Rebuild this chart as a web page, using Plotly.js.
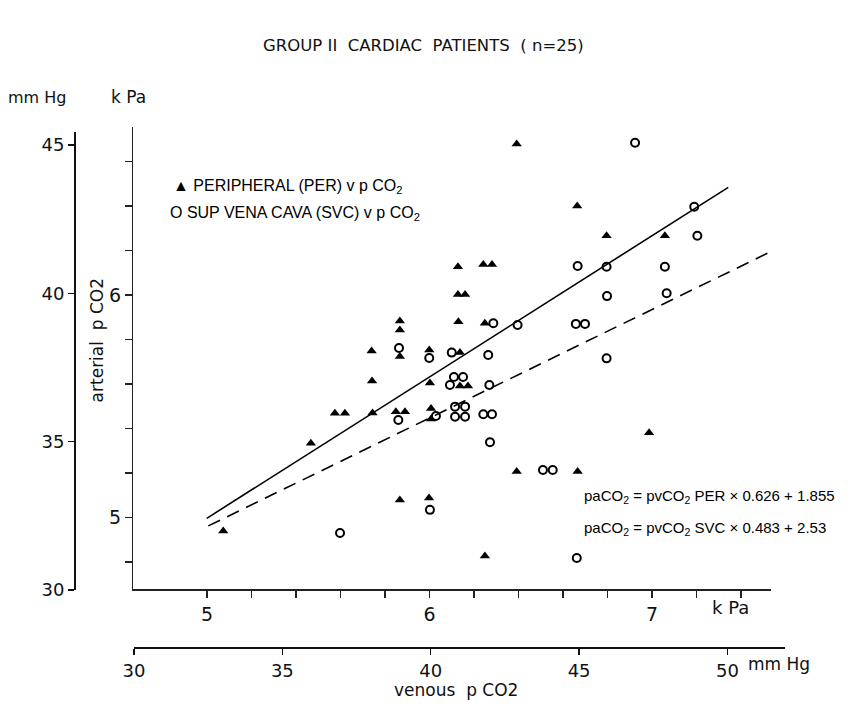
<!DOCTYPE html>
<html>
<head>
<meta charset="utf-8">
<script src="https://cdn.plot.ly/plotly-3.0.1.min.js"></script>
<style>
html,body{margin:0;padding:0;background:#fff;}
#chart{width:858px;height:706px;}
</style>
</head>
<body>
<div id="chart"></div>
<script>
// Peripheral (PER) venous pCO2 (kPa) vs arterial pCO2 (kPa)
const perX = [5.073,5.467,5.575,5.620,5.740,5.742,5.744,5.867,5.867,5.867,5.849,5.890,5.867,
  5.999,6.002,6.007,6.007,5.998,6.128,6.128,6.160,6.130,6.137,6.137,6.173,6.242,6.281,6.249,
  6.249,6.392,6.392,6.664,6.666,6.796,7.058,6.987];
const perY = [4.940,5.334,5.469,5.469,5.749,5.614,5.471,5.884,5.844,5.724,5.476,5.476,5.079,
  5.754,5.605,5.491,5.444,5.088,6.128,6.003,6.003,5.881,5.742,5.592,5.592,6.138,6.138,5.874,
  4.828,6.680,5.207,6.401,5.207,6.267,6.267,5.382];

// Superior vena cava (SVC) venous pCO2 (kPa) vs arterial pCO2 (kPa)
const svcX = [5.598,5.863,5.860,5.999,6.029,6.002,6.100,6.110,6.151,6.092,6.115,6.160,6.115,
  6.160,6.242,6.281,6.264,6.269,6.272,6.287,6.396,6.510,6.554,6.662,6.666,6.658,6.699,6.796,
  6.798,6.796,6.924,7.058,7.066,7.190,7.204];
const svcY = [4.931,5.763,5.439,5.718,5.457,5.035,5.742,5.632,5.632,5.596,5.499,5.499,5.454,
  5.454,5.465,5.465,5.731,5.596,5.339,5.874,5.866,5.214,5.214,4.819,6.131,5.871,5.871,6.128,
  5.996,5.716,6.685,6.128,6.009,6.398,6.267];

// Regression lines (end points as drawn)
const perLineX = [4.999, 7.343];
const perLineY = [4.997, 6.485];
const svcLineX = [5.006, 7.534];
const svcLineY = [4.963, 6.196];

// Tick values / labels
const kpaXTicks = [5,5.2,5.4,5.6,5.8,6,6.2,6.4,6.6,6.8,7,7.2,7.4];
const kpaXText  = ['5','','','','','6','','','','','7','',''];
const kpaYTicks = [5, 6];
const mmhgXTicks = [30, 35, 40, 45, 50];
const mmhgYTicks = [30, 35, 40, 45];

const FONT = 'DejaVu Sans, sans-serif';
const SANS = 'Liberation Sans, Arial, sans-serif';

const traces = [
  {x: perLineX, y: perLineY, mode: 'lines', line: {color: '#000', width: 1.6}, hoverinfo: 'skip'},
  {x: svcLineX, y: svcLineY, mode: 'lines', line: {color: '#000', width: 1.6, dash: '13px,8px'}, hoverinfo: 'skip'},
  {x: perX, y: perY, mode: 'markers', name: 'PER',
   marker: {symbol: 'triangle-up', size: 9, color: '#000'}},
  {x: svcX, y: svcY, mode: 'markers', name: 'SVC',
   marker: {symbol: 'circle-open', size: 8, color: '#000', line: {width: 2, color: '#000'}}},
  {x: [null], y: [null], xaxis: 'x2', yaxis: 'y2', mode: 'markers', hoverinfo: 'skip'}
];

const layout = {
  width: 858, height: 706,
  margin: {l: 40, r: 72, t: 120, b: 58},
  paper_bgcolor: '#fff', plot_bgcolor: 'rgba(0,0,0,0)',
  showlegend: false,
  font: {family: FONT, color: '#111', size: 18},
  xaxis: {
    domain: [0.1251, 0.9799], range: [4.669, 7.535], anchor: 'y',
    showgrid: false, zeroline: false, showline: true, linecolor: '#222', linewidth: 1.5,
    ticks: 'outside', ticklen: 7, tickwidth: 1.5, tickcolor: '#222',
    tickmode: 'array', tickvals: kpaXTicks, ticktext: kpaXText,
    tickfont: {family: FONT, size: 19, color: '#111'}
  },
  yaxis: {
    domain: [0.1112, 0.9867], range: [4.678, 6.756], anchor: 'x',
    showgrid: false, zeroline: false, showline: true, linecolor: '#222', linewidth: 1.5,
    ticks: 'outside', ticklen: 7, tickwidth: 1.5, tickcolor: '#222',
    tickmode: 'array', tickvals: kpaYTicks, ticktext: kpaYTicks.map(String),
    minor: {tick0: 4.8, dtick: 0.2, ticks: 'outside', ticklen: 7, tickwidth: 1.5, tickcolor: '#222', showgrid: false},
    tickfont: {family: FONT, size: 19, color: '#111'}
  },
  xaxis2: {
    domain: [0.126, 0.9987], range: [30, 51.94], anchor: 'free', position: 0,
    showgrid: false, zeroline: false, showline: true, linecolor: '#111', linewidth: 2,
    ticks: 'outside', ticklen: 6, tickwidth: 1.5, tickcolor: '#111',
    tickmode: 'array', tickvals: mmhgXTicks, ticktext: mmhgXTicks.map(String),
    tickfont: {family: FONT, size: 18, color: '#111'}
  },
  yaxis2: {
    domain: [0.1098, 0.9773], range: [30, 45.44], anchor: 'free', position: 0.0469, side: 'left',
    showgrid: false, zeroline: false, showline: true, linecolor: '#111', linewidth: 2,
    ticks: 'outside', ticklen: 6, tickwidth: 1.5, tickcolor: '#111',
    tickmode: 'array', tickvals: mmhgYTicks, ticktext: mmhgYTicks.map(String),
    tickfont: {family: FONT, size: 18, color: '#111'}
  },
  annotations: [
    {text: 'GROUP II  CARDIAC  PATIENTS  ( n=25)', xref: 'paper', yref: 'paper',
     x: 0.514, y: 1.0, yshift: 75, showarrow: false, xanchor: 'center', yanchor: 'middle',
     font: {family: FONT, size: 16.5, color: '#111'}},
    {text: 'mm Hg', xref: 'paper', yref: 'paper', x: -0.004, y: 1.0, yshift: 23,
     showarrow: false, xanchor: 'center', yanchor: 'middle', font: {family: FONT, size: 16}},
    {text: 'k Pa', xref: 'paper', yref: 'paper', x: 0.118, y: 1.0, yshift: 23,
     showarrow: false, xanchor: 'center', yanchor: 'middle', font: {family: FONT, size: 17}},
    {text: 'arterial  p CO2', xref: 'paper', yref: 'paper', x: 0.076, y: 0.582,
     textangle: -90, showarrow: false, xanchor: 'center', yanchor: 'middle', font: {family: FONT, size: 17}},
    {text: 'k Pa', xref: 'paper', yref: 'paper', x: 0.925, y: 0.076,
     showarrow: false, xanchor: 'center', yanchor: 'middle', font: {family: FONT, size: 18}},
    {text: 'mm Hg', xref: 'paper', yref: 'paper', x: 0.99, y: 0, yshift: -16,
     showarrow: false, xanchor: 'center', yanchor: 'middle', font: {family: FONT, size: 17}},
    {text: 'venous  p CO2', xref: 'paper', yref: 'paper', x: 0.557, y: 0, yshift: -42,
     showarrow: false, xanchor: 'center', yanchor: 'middle', font: {family: FONT, size: 17}},
    {text: '▲ PERIPHERAL (PER) v p CO<sub>2</sub>', xref: 'paper', yref: 'paper',
     x: 0.176, y: 0.875, showarrow: false, xanchor: 'left', yanchor: 'middle',
     font: {family: SANS, size: 16, color: '#000'}},
    {text: 'O SUP VENA CAVA (SVC) v p CO<sub>2</sub>', xref: 'paper', yref: 'paper',
     x: 0.172, y: 0.822, showarrow: false, xanchor: 'left', yanchor: 'middle',
     font: {family: SANS, size: 16, color: '#000'}},
    {text: 'paCO<sub>2</sub> = pvCO<sub>2</sub> PER × 0.626 + 1.855', xref: 'paper', yref: 'paper',
     x: 0.726, y: 0.286, showarrow: false, xanchor: 'left', yanchor: 'middle',
     font: {family: SANS, size: 15, color: '#000'}},
    {text: 'paCO<sub>2</sub> = pvCO<sub>2</sub> SVC × 0.483 + 2.53', xref: 'paper', yref: 'paper',
     x: 0.726, y: 0.227, showarrow: false, xanchor: 'left', yanchor: 'middle',
     font: {family: SANS, size: 15, color: '#000'}}
  ]
};

Plotly.newPlot('chart', traces, layout, {displayModeBar: false, staticPlot: true});
</script>
</body>
</html>
